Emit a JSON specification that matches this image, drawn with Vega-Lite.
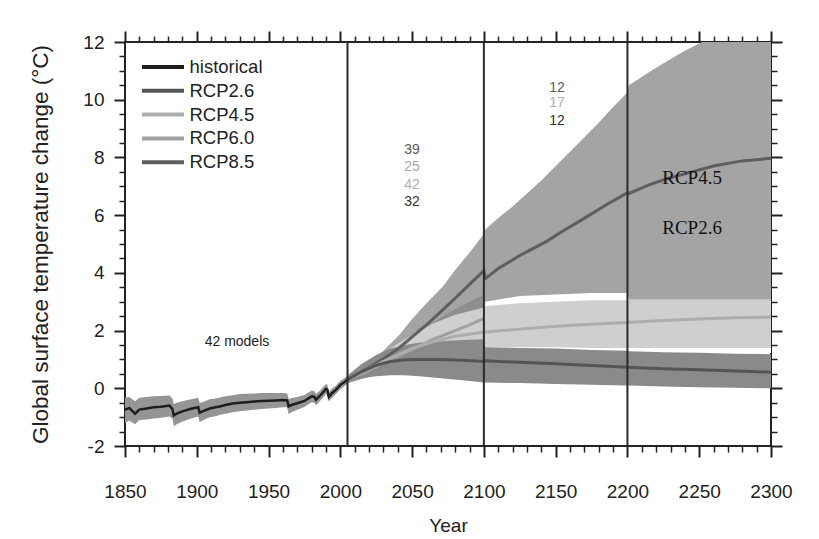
{
  "$schema": "https://vega.github.io/schema/vega-lite/v6.json",
  "width": 646,
  "height": 404,
  "autosize": {"type": "none"},
  "padding": {"left": 125, "top": 42, "right": 48, "bottom": 93},
  "config": {
    "font": "Liberation Sans",
    "view": {"stroke": "#222222", "strokeWidth": 2},
    "axis": {"grid": false, "domain": false, "labelFont": "Liberation Sans", "titleFont": "Liberation Sans", "tickColor": "#222222", "labelColor": "#222222", "titleColor": "#222222", "titleFontWeight": "normal", "labelFlush": false, "labelOverlap": false}
  },
  "datasets": {
    "hist": [
      {"year": 1850, "value": -0.75, "lo": -1.2, "hi": -0.33},
      {"year": 1853, "value": -0.68, "lo": -1.12, "hi": -0.3},
      {"year": 1857, "value": -0.88, "lo": -1.25, "hi": -0.45},
      {"year": 1860, "value": -0.74, "lo": -1.1, "hi": -0.33},
      {"year": 1865, "value": -0.7, "lo": -1.08, "hi": -0.3},
      {"year": 1870, "value": -0.66, "lo": -1.05, "hi": -0.28},
      {"year": 1875, "value": -0.64, "lo": -1.02, "hi": -0.27},
      {"year": 1881, "value": -0.6, "lo": -0.98, "hi": -0.25},
      {"year": 1883, "value": -0.72, "lo": -1.05, "hi": -0.35},
      {"year": 1884, "value": -0.94, "lo": -1.32, "hi": -0.55},
      {"year": 1886, "value": -0.88, "lo": -1.25, "hi": -0.5},
      {"year": 1890, "value": -0.8, "lo": -1.15, "hi": -0.45},
      {"year": 1896, "value": -0.71, "lo": -1.05, "hi": -0.38},
      {"year": 1901, "value": -0.66, "lo": -0.98, "hi": -0.33},
      {"year": 1902, "value": -0.85, "lo": -1.18, "hi": -0.5},
      {"year": 1904, "value": -0.8, "lo": -1.12, "hi": -0.48},
      {"year": 1909, "value": -0.7, "lo": -1.0, "hi": -0.38},
      {"year": 1913, "value": -0.66, "lo": -0.97, "hi": -0.35},
      {"year": 1916, "value": -0.63, "lo": -0.93, "hi": -0.32},
      {"year": 1920, "value": -0.58, "lo": -0.88, "hi": -0.28},
      {"year": 1925, "value": -0.53, "lo": -0.83, "hi": -0.24},
      {"year": 1930, "value": -0.5, "lo": -0.8, "hi": -0.2},
      {"year": 1935, "value": -0.48, "lo": -0.77, "hi": -0.19},
      {"year": 1940, "value": -0.46, "lo": -0.74, "hi": -0.18},
      {"year": 1945, "value": -0.44, "lo": -0.72, "hi": -0.16},
      {"year": 1950, "value": -0.43, "lo": -0.7, "hi": -0.16},
      {"year": 1955, "value": -0.42, "lo": -0.68, "hi": -0.16},
      {"year": 1960, "value": -0.41, "lo": -0.66, "hi": -0.16},
      {"year": 1963, "value": -0.42, "lo": -0.66, "hi": -0.18},
      {"year": 1964, "value": -0.63, "lo": -0.9, "hi": -0.38},
      {"year": 1966, "value": -0.58, "lo": -0.83, "hi": -0.34},
      {"year": 1970, "value": -0.52, "lo": -0.74, "hi": -0.3},
      {"year": 1975, "value": -0.44, "lo": -0.65, "hi": -0.23},
      {"year": 1980, "value": -0.28, "lo": -0.48, "hi": -0.08},
      {"year": 1982, "value": -0.3, "lo": -0.5, "hi": -0.1},
      {"year": 1983, "value": -0.4, "lo": -0.6, "hi": -0.2},
      {"year": 1986, "value": -0.25, "lo": -0.43, "hi": -0.07},
      {"year": 1990, "value": -0.02, "lo": -0.2, "hi": 0.15},
      {"year": 1991, "value": -0.05, "lo": -0.22, "hi": 0.12},
      {"year": 1992, "value": -0.3, "lo": -0.47, "hi": -0.13},
      {"year": 1994, "value": -0.18, "lo": -0.34, "hi": -0.02},
      {"year": 1997, "value": -0.05, "lo": -0.2, "hi": 0.1},
      {"year": 2000, "value": 0.12, "lo": -0.03, "hi": 0.26},
      {"year": 2003, "value": 0.22, "lo": 0.08, "hi": 0.36},
      {"year": 2005, "value": 0.3, "lo": 0.16, "hi": 0.44}
    ],
    "lines": [
      {"series": "RCP8.5", "year": 2005, "value": 0.3},
      {"series": "RCP8.5", "year": 2013, "value": 0.52},
      {"series": "RCP8.5", "year": 2020, "value": 0.72},
      {"series": "RCP8.5", "year": 2030, "value": 1.02},
      {"series": "RCP8.5", "year": 2041, "value": 1.4},
      {"series": "RCP8.5", "year": 2050, "value": 1.78},
      {"series": "RCP8.5", "year": 2060, "value": 2.2},
      {"series": "RCP8.5", "year": 2071, "value": 2.7},
      {"series": "RCP8.5", "year": 2080, "value": 3.12},
      {"series": "RCP8.5", "year": 2090, "value": 3.6},
      {"series": "RCP8.5", "year": 2100, "value": 4.08},
      {"series": "RCP8.5", "year": 2101, "value": 3.8},
      {"series": "RCP8.5", "year": 2110, "value": 4.15},
      {"series": "RCP8.5", "year": 2125, "value": 4.6},
      {"series": "RCP8.5", "year": 2144, "value": 5.1},
      {"series": "RCP8.5", "year": 2155, "value": 5.45},
      {"series": "RCP8.5", "year": 2167, "value": 5.8},
      {"series": "RCP8.5", "year": 2185, "value": 6.35},
      {"series": "RCP8.5", "year": 2200, "value": 6.78},
      {"series": "RCP8.5", "year": 2201, "value": 6.75},
      {"series": "RCP8.5", "year": 2215, "value": 7.05},
      {"series": "RCP8.5", "year": 2228, "value": 7.27},
      {"series": "RCP8.5", "year": 2245, "value": 7.5},
      {"series": "RCP8.5", "year": 2260, "value": 7.7},
      {"series": "RCP8.5", "year": 2280, "value": 7.88},
      {"series": "RCP8.5", "year": 2300, "value": 7.97},
      {"series": "RCP6.0", "year": 2005, "value": 0.3},
      {"series": "RCP6.0", "year": 2020, "value": 0.62},
      {"series": "RCP6.0", "year": 2035, "value": 0.98},
      {"series": "RCP6.0", "year": 2050, "value": 1.35},
      {"series": "RCP6.0", "year": 2065, "value": 1.7},
      {"series": "RCP6.0", "year": 2080, "value": 2.0},
      {"series": "RCP6.0", "year": 2090, "value": 2.2},
      {"series": "RCP6.0", "year": 2100, "value": 2.42},
      {"series": "RCP4.5", "year": 2005, "value": 0.3},
      {"series": "RCP4.5", "year": 2020, "value": 0.68},
      {"series": "RCP4.5", "year": 2035, "value": 1.05},
      {"series": "RCP4.5", "year": 2050, "value": 1.38},
      {"series": "RCP4.5", "year": 2065, "value": 1.62},
      {"series": "RCP4.5", "year": 2080, "value": 1.8},
      {"series": "RCP4.5", "year": 2100, "value": 1.95},
      {"series": "RCP4.5", "year": 2101, "value": 1.95},
      {"series": "RCP4.5", "year": 2125, "value": 2.05},
      {"series": "RCP4.5", "year": 2150, "value": 2.15},
      {"series": "RCP4.5", "year": 2175, "value": 2.22},
      {"series": "RCP4.5", "year": 2200, "value": 2.28},
      {"series": "RCP4.5", "year": 2225, "value": 2.35},
      {"series": "RCP4.5", "year": 2250, "value": 2.4},
      {"series": "RCP4.5", "year": 2275, "value": 2.44},
      {"series": "RCP4.5", "year": 2300, "value": 2.47},
      {"series": "RCP2.6", "year": 2005, "value": 0.3},
      {"series": "RCP2.6", "year": 2015, "value": 0.58},
      {"series": "RCP2.6", "year": 2025, "value": 0.8},
      {"series": "RCP2.6", "year": 2035, "value": 0.93},
      {"series": "RCP2.6", "year": 2045, "value": 0.99},
      {"series": "RCP2.6", "year": 2055, "value": 1.0},
      {"series": "RCP2.6", "year": 2070, "value": 1.0},
      {"series": "RCP2.6", "year": 2085, "value": 0.97},
      {"series": "RCP2.6", "year": 2100, "value": 0.93},
      {"series": "RCP2.6", "year": 2101, "value": 0.95},
      {"series": "RCP2.6", "year": 2125, "value": 0.9},
      {"series": "RCP2.6", "year": 2150, "value": 0.85},
      {"series": "RCP2.6", "year": 2175, "value": 0.79},
      {"series": "RCP2.6", "year": 2200, "value": 0.73},
      {"series": "RCP2.6", "year": 2225, "value": 0.68},
      {"series": "RCP2.6", "year": 2250, "value": 0.64},
      {"series": "RCP2.6", "year": 2275, "value": 0.6},
      {"series": "RCP2.6", "year": 2300, "value": 0.56}
    ],
    "bands": [
      {"series": "RCP8.5", "year": 2005, "lo": 0.18, "hi": 0.44},
      {"series": "RCP8.5", "year": 2013, "lo": 0.3, "hi": 0.63},
      {"series": "RCP8.5", "year": 2020, "lo": 0.4, "hi": 0.88},
      {"series": "RCP8.5", "year": 2030, "lo": 0.6, "hi": 1.3},
      {"series": "RCP8.5", "year": 2041, "lo": 0.9, "hi": 1.85},
      {"series": "RCP8.5", "year": 2050, "lo": 1.2, "hi": 2.4},
      {"series": "RCP8.5", "year": 2060, "lo": 1.55, "hi": 2.95},
      {"series": "RCP8.5", "year": 2071, "lo": 1.95, "hi": 3.5},
      {"series": "RCP8.5", "year": 2080, "lo": 2.3, "hi": 4.1},
      {"series": "RCP8.5", "year": 2090, "lo": 2.6, "hi": 4.7},
      {"series": "RCP8.5", "year": 2100, "lo": 2.9, "hi": 5.35},
      {"series": "RCP8.5", "year": 2101, "lo": 2.9, "hi": 5.5},
      {"series": "RCP8.5", "year": 2110, "lo": 2.9, "hi": 5.9},
      {"series": "RCP8.5", "year": 2120, "lo": 2.9, "hi": 6.3},
      {"series": "RCP8.5", "year": 2130, "lo": 2.9, "hi": 6.75},
      {"series": "RCP8.5", "year": 2140, "lo": 2.9, "hi": 7.2},
      {"series": "RCP8.5", "year": 2150, "lo": 2.9, "hi": 7.7},
      {"series": "RCP8.5", "year": 2160, "lo": 2.9, "hi": 8.2},
      {"series": "RCP8.5", "year": 2170, "lo": 2.9, "hi": 8.7},
      {"series": "RCP8.5", "year": 2180, "lo": 2.9, "hi": 9.2},
      {"series": "RCP8.5", "year": 2190, "lo": 2.9, "hi": 9.75},
      {"series": "RCP8.5", "year": 2200, "lo": 2.9, "hi": 10.25},
      {"series": "RCP8.5", "year": 2201, "lo": 2.9, "hi": 10.5},
      {"series": "RCP8.5", "year": 2215, "lo": 2.9, "hi": 10.95},
      {"series": "RCP8.5", "year": 2228, "lo": 2.9, "hi": 11.35},
      {"series": "RCP8.5", "year": 2240, "lo": 2.9, "hi": 11.7},
      {"series": "RCP8.5", "year": 2256, "lo": 2.9, "hi": 12.1},
      {"series": "RCP8.5", "year": 2275, "lo": 2.9, "hi": 12.6},
      {"series": "RCP8.5", "year": 2300, "lo": 2.9, "hi": 13.0},
      {"series": "RCP6.0", "year": 2005, "lo": 0.18, "hi": 0.44},
      {"series": "RCP6.0", "year": 2020, "lo": 0.4, "hi": 0.85},
      {"series": "RCP6.0", "year": 2035, "lo": 0.65, "hi": 1.3},
      {"series": "RCP6.0", "year": 2050, "lo": 0.9, "hi": 1.8},
      {"series": "RCP6.0", "year": 2065, "lo": 1.1, "hi": 2.3},
      {"series": "RCP6.0", "year": 2080, "lo": 1.3, "hi": 2.75},
      {"series": "RCP6.0", "year": 2090, "lo": 1.45, "hi": 3.0},
      {"series": "RCP6.0", "year": 2100, "lo": 1.55, "hi": 3.25},
      {"series": "RCP4.5 edge", "year": 2101, "lo": 1.25, "hi": 3.0},
      {"series": "RCP4.5 edge", "year": 2125, "lo": 1.25, "hi": 3.2},
      {"series": "RCP4.5 edge", "year": 2150, "lo": 1.25, "hi": 3.25},
      {"series": "RCP4.5 edge", "year": 2175, "lo": 1.25, "hi": 3.3},
      {"series": "RCP4.5 edge", "year": 2200, "lo": 1.25, "hi": 3.3},
      {"series": "RCP4.5 edge", "year": 2201, "lo": 1.22, "hi": 3.07},
      {"series": "RCP4.5 edge", "year": 2300, "lo": 1.22, "hi": 3.07},
      {"series": "RCP4.5", "year": 2005, "lo": 0.18, "hi": 0.44},
      {"series": "RCP4.5", "year": 2020, "lo": 0.42, "hi": 0.95},
      {"series": "RCP4.5", "year": 2035, "lo": 0.65, "hi": 1.4},
      {"series": "RCP4.5", "year": 2050, "lo": 0.85, "hi": 1.85},
      {"series": "RCP4.5", "year": 2065, "lo": 1.0, "hi": 2.25},
      {"series": "RCP4.5", "year": 2080, "lo": 1.1, "hi": 2.55},
      {"series": "RCP4.5", "year": 2100, "lo": 1.15, "hi": 2.8},
      {"series": "RCP4.5", "year": 2101, "lo": 1.42, "hi": 2.85},
      {"series": "RCP4.5", "year": 2125, "lo": 1.42, "hi": 2.95},
      {"series": "RCP4.5", "year": 2150, "lo": 1.42, "hi": 3.0},
      {"series": "RCP4.5", "year": 2175, "lo": 1.4, "hi": 3.05},
      {"series": "RCP4.5", "year": 2200, "lo": 1.4, "hi": 3.05},
      {"series": "RCP4.5", "year": 2201, "lo": 1.4, "hi": 3.07},
      {"series": "RCP4.5", "year": 2250, "lo": 1.4, "hi": 3.07},
      {"series": "RCP4.5", "year": 2300, "lo": 1.4, "hi": 3.07},
      {"series": "RCP2.6", "year": 2005, "lo": 0.18, "hi": 0.44},
      {"series": "RCP2.6", "year": 2015, "lo": 0.35, "hi": 0.85},
      {"series": "RCP2.6", "year": 2025, "lo": 0.42, "hi": 1.15},
      {"series": "RCP2.6", "year": 2035, "lo": 0.45, "hi": 1.38},
      {"series": "RCP2.6", "year": 2045, "lo": 0.45, "hi": 1.5},
      {"series": "RCP2.6", "year": 2055, "lo": 0.42, "hi": 1.58},
      {"series": "RCP2.6", "year": 2070, "lo": 0.35, "hi": 1.63},
      {"series": "RCP2.6", "year": 2085, "lo": 0.28, "hi": 1.67},
      {"series": "RCP2.6", "year": 2100, "lo": 0.2, "hi": 1.7},
      {"series": "RCP2.6", "year": 2101, "lo": 0.2, "hi": 1.42},
      {"series": "RCP2.6", "year": 2125, "lo": 0.18, "hi": 1.4},
      {"series": "RCP2.6", "year": 2150, "lo": 0.15, "hi": 1.38},
      {"series": "RCP2.6", "year": 2175, "lo": 0.12, "hi": 1.33},
      {"series": "RCP2.6", "year": 2200, "lo": 0.1, "hi": 1.3},
      {"series": "RCP2.6", "year": 2201, "lo": 0.1, "hi": 1.28},
      {"series": "RCP2.6", "year": 2225, "lo": 0.06, "hi": 1.25},
      {"series": "RCP2.6", "year": 2250, "lo": 0.04, "hi": 1.23},
      {"series": "RCP2.6", "year": 2275, "lo": 0.02, "hi": 1.2},
      {"series": "RCP2.6", "year": 2300, "lo": 0.0, "hi": 1.18}
    ],
    "vlines": [{"year": 2005}, {"year": 2100}, {"year": 2200}],
    "counts": [
      {"series": "RCP8.5", "year": 2050, "value": 8.27, "label": "39"},
      {"series": "RCP6.0", "year": 2050, "value": 7.68, "label": "25"},
      {"series": "RCP4.5", "year": 2050, "value": 7.06, "label": "42"},
      {"series": "RCP2.6", "year": 2050, "value": 6.44, "label": "32"},
      {"series": "RCP8.5", "year": 2151, "value": 10.42, "label": "12"},
      {"series": "RCP4.5", "year": 2151, "value": 9.88, "label": "17"},
      {"series": "RCP2.6", "year": 2151, "value": 9.25, "label": "12"},
      {"series": "historical", "year": 1928, "value": 1.6, "label": "42 models"}
    ],
    "names": [
      {"year": 2245, "value": 7.3, "label": "RCP4.5"},
      {"year": 2245, "value": 5.57, "label": "RCP2.6"}
    ]
  },
  "layer": [
    {
      "data": {"name": "bands"},
      "transform": [{"filter": "datum.series === 'RCP8.5'"}],
      "mark": {"type": "area", "color": "#a4a4a4", "clip": true},
      "encoding": {
        "x": {"field": "year", "type": "quantitative", "scale": {"domain": [1850, 2300], "nice": false, "zero": false},
              "axis": {"orient": "bottom", "values": [1850, 1900, 1950, 2000, 2050, 2100, 2150, 2200, 2250, 2300], "format": "d", "tickSize": 11, "tickWidth": 2, "labelFontSize": 19, "labelPadding": 25, "title": "Year", "titleFontSize": 19, "titlePadding": 15}},
        "y": {"field": "lo", "type": "quantitative", "scale": {"domain": [-2, 12], "nice": false, "zero": false},
              "axis": {"orient": "left", "values": [-2, 0, 2, 4, 6, 8, 10, 12], "labelExpr": "replace(datum.label, '\u2212', '-')", "tickSize": 11, "tickWidth": 2, "labelFontSize": 19, "labelPadding": 10, "title": "Global surface temperature change (°C)", "titleFontSize": 22.5, "titlePadding": 30}},
        "y2": {"field": "hi"}
      }
    },
    {
      "data": {"name": "bands"},
      "transform": [{"filter": "datum.series === 'RCP6.0'"}],
      "mark": {"type": "area", "color": "#8f8f8f", "clip": true},
      "encoding": {
        "x": {"field": "year", "type": "quantitative", "scale": {"domain": [1850, 2300], "nice": false, "zero": false},
              "axis": {"orient": "bottom", "values": [1860, 1870, 1880, 1890, 1910, 1920, 1930, 1940, 1960, 1970, 1980, 1990, 2010, 2020, 2030, 2040, 2060, 2070, 2080, 2090, 2110, 2120, 2130, 2140, 2160, 2170, 2180, 2190, 2210, 2220, 2230, 2240, 2260, 2270, 2280, 2290], "tickSize": 6, "tickWidth": 1.5, "labels": false, "title": null}},
        "y": {"field": "lo", "type": "quantitative", "scale": {"domain": [-2, 12], "nice": false, "zero": false},
              "axis": {"orient": "left", "values": [-1.5, -1, -0.5, 0.5, 1, 1.5, 2.5, 3, 3.5, 4.5, 5, 5.5, 6.5, 7, 7.5, 8.5, 9, 9.5, 10.5, 11, 11.5], "tickSize": 6, "tickWidth": 1.5, "labels": false, "title": null}},
        "y2": {"field": "hi"}
      }
    },
    {
      "data": {"name": "bands"},
      "transform": [{"filter": "datum.series === 'RCP4.5 edge'"}],
      "mark": {"type": "area", "color": "#ffffff", "clip": true},
      "encoding": {
        "x": {"field": "year", "type": "quantitative", "scale": {"domain": [1850, 2300], "nice": false, "zero": false},
              "axis": {"orient": "top", "values": [1850, 1900, 1950, 2000, 2050, 2100, 2150, 2200, 2250, 2300], "tickSize": 11, "tickWidth": 2, "labels": false, "title": null}},
        "y": {"field": "lo", "type": "quantitative", "scale": {"domain": [-2, 12], "nice": false, "zero": false},
              "axis": {"orient": "right", "values": [-2, 0, 2, 4, 6, 8, 10, 12], "tickSize": 11, "tickWidth": 2, "labels": false, "title": null}},
        "y2": {"field": "hi"}
      }
    },
    {
      "data": {"name": "bands"},
      "transform": [{"filter": "datum.series === 'RCP4.5'"}],
      "mark": {"type": "area", "color": "#cfcfcf", "clip": true},
      "encoding": {
        "x": {"field": "year", "type": "quantitative", "scale": {"domain": [1850, 2300], "nice": false, "zero": false},
              "axis": {"orient": "top", "values": [1860, 1870, 1880, 1890, 1910, 1920, 1930, 1940, 1960, 1970, 1980, 1990, 2010, 2020, 2030, 2040, 2060, 2070, 2080, 2090, 2110, 2120, 2130, 2140, 2160, 2170, 2180, 2190, 2210, 2220, 2230, 2240, 2260, 2270, 2280, 2290], "tickSize": 6, "tickWidth": 1.5, "labels": false, "title": null}},
        "y": {"field": "lo", "type": "quantitative", "scale": {"domain": [-2, 12], "nice": false, "zero": false},
              "axis": {"orient": "right", "values": [-1.5, -1, -0.5, 0.5, 1, 1.5, 2.5, 3, 3.5, 4.5, 5, 5.5, 6.5, 7, 7.5, 8.5, 9, 9.5, 10.5, 11, 11.5], "tickSize": 6, "tickWidth": 1.5, "labels": false, "title": null}},
        "y2": {"field": "hi"}
      }
    },
    {
      "data": {"name": "bands"},
      "transform": [{"filter": "datum.series === 'RCP2.6'"}],
      "mark": {"type": "area", "color": "#8a8a8a", "clip": true},
      "encoding": {
        "x": {"field": "year", "type": "quantitative", "axis": null},
        "y": {"field": "lo", "type": "quantitative", "axis": null},
        "y2": {"field": "hi"}
      }
    },
    {
      "data": {"name": "hist"},
      "mark": {"type": "area", "color": "#959595", "clip": true},
      "encoding": {
        "x": {"field": "year", "type": "quantitative", "axis": null},
        "y": {"field": "lo", "type": "quantitative", "axis": null},
        "y2": {"field": "hi"}
      }
    },
    {
      "data": {"name": "lines"},
      "mark": {"type": "line", "strokeWidth": 3, "clip": true},
      "encoding": {
        "x": {"field": "year", "type": "quantitative", "axis": null},
        "y": {"field": "value", "type": "quantitative", "axis": null},
        "stroke": {"field": "series", "type": "nominal",
          "scale": {"domain": ["historical", "RCP2.6", "RCP4.5", "RCP6.0", "RCP8.5"], "range": ["#1e1e1e", "#555555", "#adadad", "#a0a0a0", "#5e5e5e"]},
          "legend": {"orient": "none", "legendX": 25.5, "legendY": 12.5, "padding": 0, "title": null, "symbolType": "M-2,0H2", "symbolSize": 441, "symbolStrokeWidth": 4, "labelFontSize": 18.5, "labelFont": "Liberation Sans", "labelColor": "#222222", "rowPadding": 1.8, "labelOffset": 14}}
      }
    },
    {
      "data": {"name": "hist"},
      "mark": {"type": "line", "strokeWidth": 2.5, "color": "#1e1e1e"},
      "encoding": {
        "x": {"field": "year", "type": "quantitative", "axis": null},
        "y": {"field": "value", "type": "quantitative", "axis": null}
      }
    },
    {
      "data": {"name": "vlines"},
      "mark": {"type": "rule", "color": "#2a2a2a", "strokeWidth": 2},
      "encoding": {
        "x": {"field": "year", "type": "quantitative", "axis": null}
      }
    },
    {
      "data": {"name": "counts"},
      "mark": {"type": "text", "fontSize": 14, "font": "Liberation Sans", "align": "center", "baseline": "middle"},
      "encoding": {
        "x": {"field": "year", "type": "quantitative", "axis": null},
        "y": {"field": "value", "type": "quantitative", "axis": null},
        "text": {"field": "label"},
        "color": {"field": "series", "type": "nominal", "legend": null,
          "scale": {"domain": ["RCP8.5", "RCP6.0", "RCP4.5", "RCP2.6", "historical"], "range": ["#5a5a5a", "#a8a8a8", "#b0b0b0", "#333333", "#222222"]}}
      }
    },
    {
      "data": {"name": "names"},
      "mark": {"type": "text", "fontSize": 19, "font": "Liberation Serif", "align": "center", "baseline": "middle", "color": "#111111"},
      "encoding": {
        "x": {"field": "year", "type": "quantitative", "axis": null},
        "y": {"field": "value", "type": "quantitative", "axis": null},
        "text": {"field": "label"}
      }
    }
  ],
  "resolve": {"axis": {"x": "independent", "y": "independent"}}
}
